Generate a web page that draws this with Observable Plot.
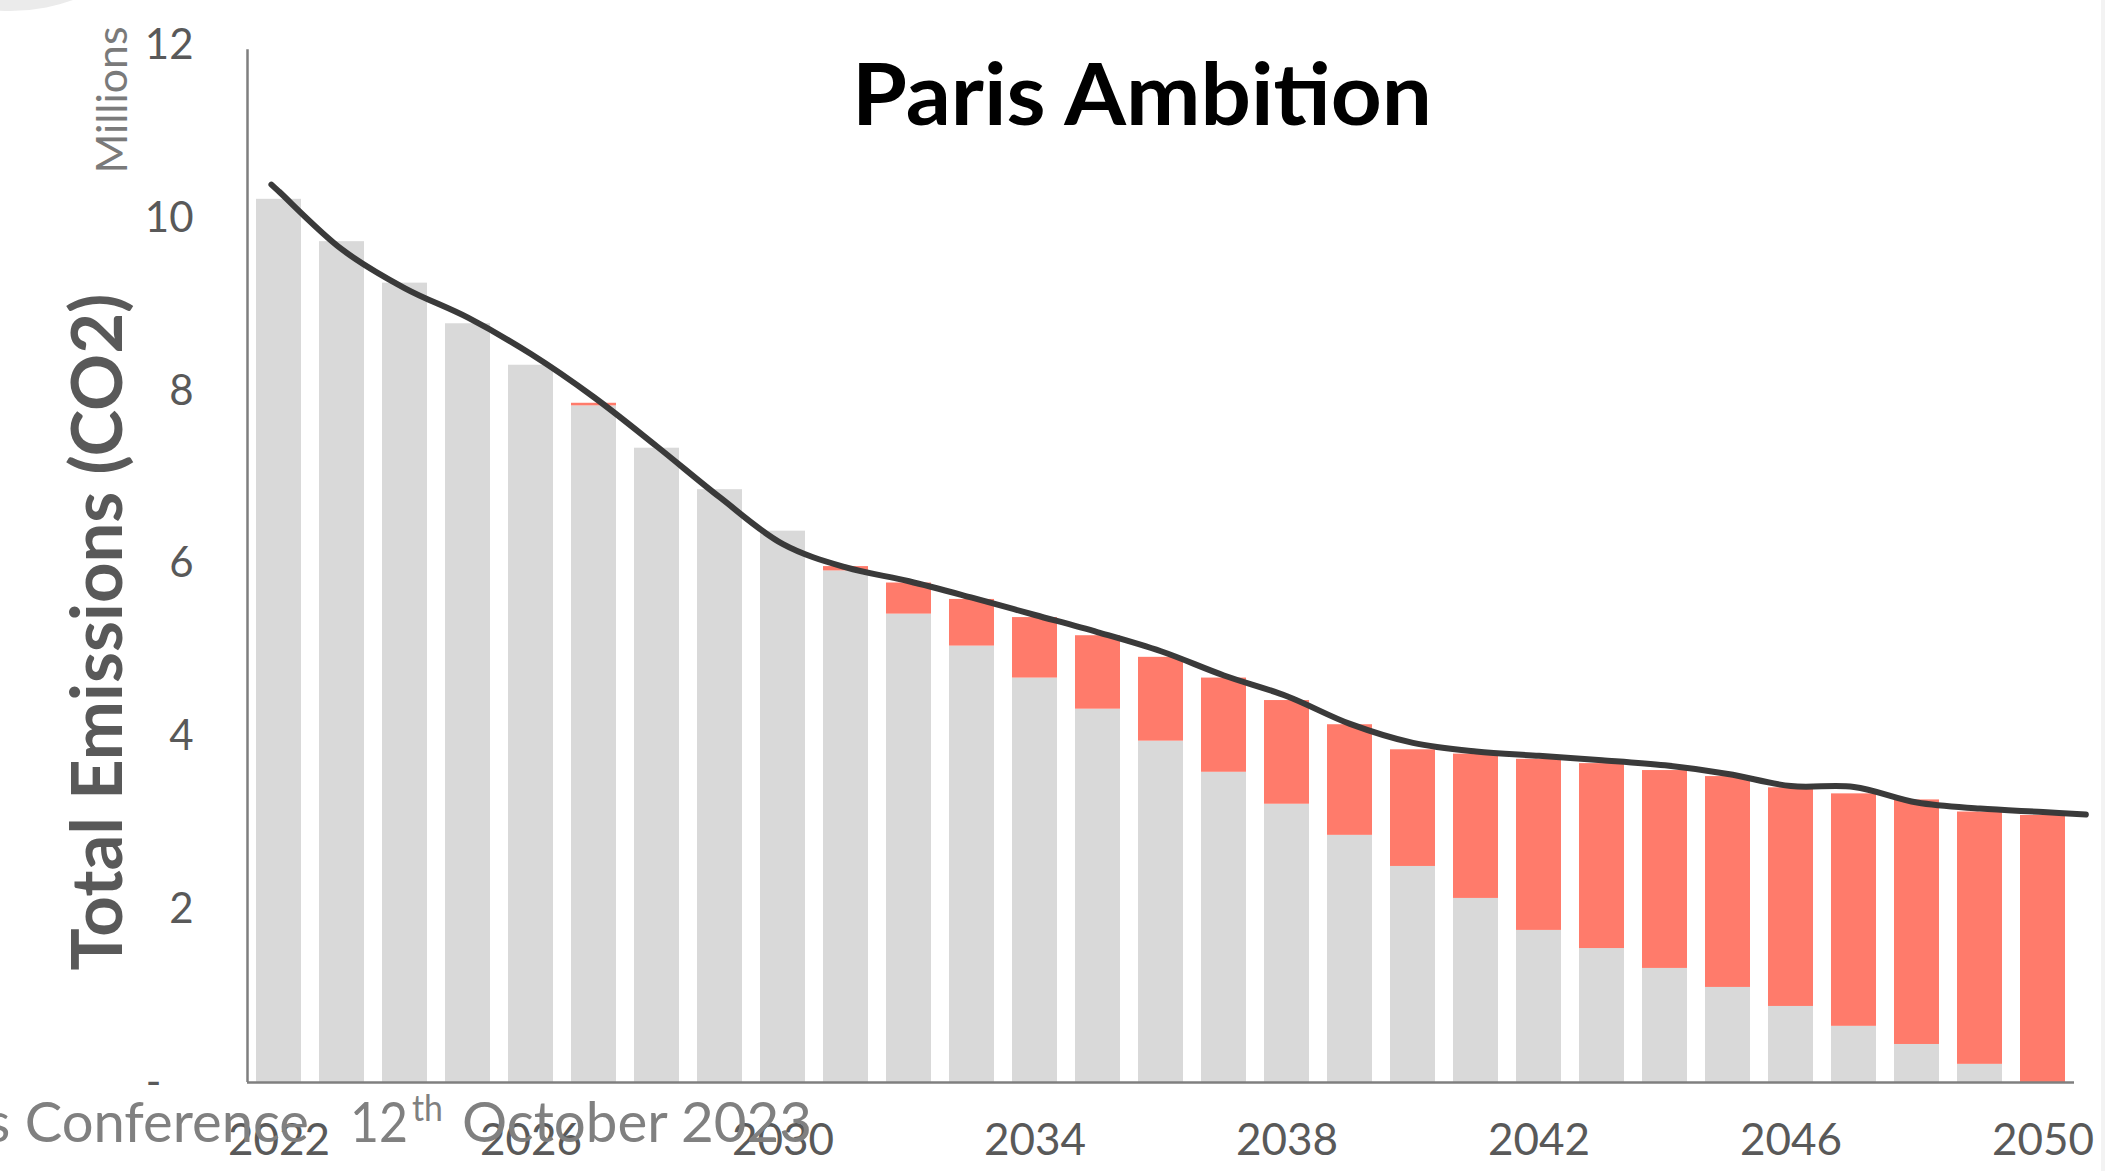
<!DOCTYPE html>
<html>
<head>
<meta charset="utf-8">
<script src="https://cdn.jsdelivr.net/npm/d3@7"></script>
<script src="https://cdn.jsdelivr.net/npm/@observablehq/plot@0.6"></script>
<style>
  html, body { margin: 0; padding: 0; background: #ffffff; }
  body { width: 2127px; height: 1171px; position: relative; overflow: hidden; }
  #chart { position: absolute; left: 0; top: 0; }
  .corner { position: absolute; left: -176px; top: -361px; width: 372px; height: 372px; border-radius: 50%; background: #ebebeb; }
  .edge { position: absolute; left: 2101px; top: 0; width: 4px; height: 1171px; background: #f3f3f3; }
</style>
</head>
<body>
<div class="corner"></div>
<div class="edge"></div>
<div id="chart"></div>
<script>
// ---- data ----
const years = [2022, 2023, 2024, 2025, 2026, 2027, 2028, 2029, 2030, 2031, 2032, 2033, 2034, 2035, 2036,
               2037, 2038, 2039, 2040, 2041, 2042, 2043, 2044, 2045, 2046, 2047, 2048, 2049, 2050];
// grey part of each bar (Millions)
const remaining = [10.22, 9.73, 9.25, 8.78, 8.30, 7.83, 7.34, 6.86, 6.38, 5.92, 5.42, 5.05, 4.68, 4.32, 3.95,
                   3.59, 3.22, 2.86, 2.50, 2.13, 1.76, 1.55, 1.32, 1.10, 0.88, 0.65, 0.44, 0.21, 0.00];
// red part stacked on top (Millions)
const gap = [0, 0, 0, 0, 0, 0.03, 0, 0, 0, 0.05, 0.36, 0.54, 0.70, 0.85, 0.97,
             1.09, 1.20, 1.28, 1.35, 1.67, 1.98, 2.14, 2.29, 2.44, 2.53, 2.69, 2.83, 2.92, 3.09];
// smoothed black line
const lineYears = [2021.88, 2022, 2023, 2024, 2025, 2026, 2027, 2028, 2029, 2030, 2031, 2032, 2033, 2034, 2035, 2036,
                   2037, 2038, 2039, 2040, 2041, 2042, 2043, 2044, 2045, 2046, 2047, 2048, 2049, 2050, 2050.68];
const lineValues = [10.39, 10.31, 9.64, 9.19, 8.85, 8.43, 7.93, 7.36, 6.77, 6.23, 5.96, 5.80, 5.61, 5.41, 5.21, 4.99,
                    4.71, 4.47, 4.15, 3.93, 3.83, 3.78, 3.73, 3.67, 3.57, 3.43, 3.42, 3.24, 3.17, 3.13, 3.10];
const xTicks = [2022, 2026, 2030, 2034, 2038, 2042, 2046, 2050];
const yTicks = [0, 2, 4, 6, 8, 10, 12];

const title = "Paris Ambition";
const yLabel = "Total Emissions (CO2)";
const unitLabel = "Millions";

// ---- build ----
const rows = years.map((year, i) => ({year, remaining: remaining[i], gap: gap[i]}));
const lineRows = lineYears.map((x, i) => ({x, y: lineValues[i]}));
const half = 0.357; // half bar width in category units

const chart = Plot.plot({
  width: 2127,
  height: 1171,
  marginLeft: 247,
  marginRight: 53,
  marginTop: 45,
  marginBottom: 89,
  style: {background: "transparent", color: "#595959", fontFamily: "Lato, 'Noto Sans', sans-serif"},
  x: {type: "linear", domain: [2021.5, 2050.5]},
  y: {domain: [0, 12]},
  marks: [
    Plot.rect(rows, {x1: d => d.year - half, x2: d => d.year + half, y1: 0, y2: "remaining", fill: "#d9d9d9"}),
    Plot.rect(rows.filter(d => d.gap > 0), {x1: d => d.year - half, x2: d => d.year + half,
      y1: "remaining", y2: d => d.remaining + d.gap, fill: "#ff7b6b"}),
    Plot.line(lineRows, {x: "x", y: "y", curve: "catmull-rom", stroke: "#3a3a3a", strokeWidth: 6}),
    Plot.ruleY([0], {stroke: "#7f7f7f", strokeWidth: 2.5}),
    Plot.ruleX([2021.5], {y1: 0, y2: 11.95, stroke: "#7f7f7f", strokeWidth: 2.5}),
    Plot.axisX({ticks: xTicks, tickSize: 0, tickPadding: 41, tickFormat: d => String(d), fontSize: 44, label: null}),
    Plot.axisY({ticks: yTicks, tickSize: 0, tickPadding: 54, tickFormat: d => d === 0 ? "-\u00a0\u00a0\u00a0" : String(d), fontSize: 42, label: null})
  ]
});
document.getElementById("chart").appendChild(chart);

// ---- texts added to the same svg ----
const svg = d3.select(chart);
svg.append("text")
  .attr("x", 1142).attr("y", 125)
  .attr("text-anchor", "middle")
  .attr("font-family", "Lato, sans-serif").attr("font-weight", 700).attr("font-size", 86)
  .attr("fill", "#000000")
  .attr("textLength", 580).attr("lengthAdjust", "spacingAndGlyphs")
  .text(title);

svg.append("text")
  .attr("transform", "translate(122,632) rotate(-90)")
  .attr("text-anchor", "middle")
  .attr("font-family", "Lato, sans-serif").attr("font-weight", 700).attr("font-size", 70)
  .attr("fill", "#595959")
  .attr("textLength", 677).attr("lengthAdjust", "spacingAndGlyphs")
  .text(yLabel);

svg.append("text")
  .attr("transform", "translate(127,100) rotate(-90)")
  .attr("text-anchor", "middle")
  .attr("font-family", "Lato, sans-serif").attr("font-weight", 400).attr("font-size", 42)
  .attr("fill", "#7a7a7a")
  .attr("textLength", 147).attr("lengthAdjust", "spacingAndGlyphs")
  .text(unitLabel);

// footer overlay (slide footer text partly cut at the left edge)
const footParts = [
  {x: -14, y: 1142, size: 56, len: 323, text: "s Conference"},
  {x: 350, y: 1142, size: 56, len: 58, text: "12"},
  {x: 412, y: 1121, size: 36, len: 31, text: "th"},
  {x: 462, y: 1142, size: 56, len: 350, text: "October 2023"}
];
for (const p of footParts) {
  svg.append("text")
    .attr("x", p.x).attr("y", p.y)
    .attr("text-anchor", "start")
    .attr("font-family", "Lato, sans-serif").attr("font-size", p.size)
    .attr("fill", "#808080")
    .attr("textLength", p.len).attr("lengthAdjust", "spacingAndGlyphs")
    .text(p.text);
}
</script>
</body>
</html>
